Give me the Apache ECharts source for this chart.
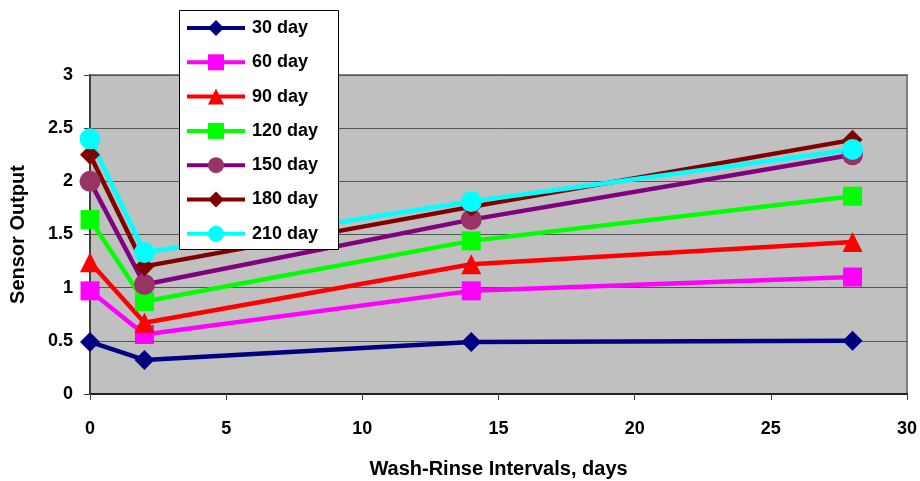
<!DOCTYPE html>
<html><head><meta charset="utf-8">
<script src="https://cdn.jsdelivr.net/npm/echarts@6/dist/echarts.min.js"></script>
<style>html,body{margin:0;padding:0;background:#fff}#c{width:920px;height:481px}</style>
</head><body><div id="c"></div>
<script>
const xValues = [0, 2, 14, 28];
const seriesNames = ['30 day','60 day','90 day','120 day','150 day','180 day','210 day'];
const d30  = [0.49, 0.32, 0.49, 0.50];
const d60  = [0.97, 0.56, 0.97, 1.10];
const d90  = [1.24, 0.67, 1.22, 1.43];
const d120 = [1.64, 0.87, 1.44, 1.86];
const d150 = [2.00, 1.03, 1.64, 2.25];
const d180 = [2.25, 1.20, 1.76, 2.39];
const d210 = [2.40, 1.33, 1.81, 2.30];
const allData = [d30, d60, d90, d120, d150, d180, d210];
const lineColors = ['#000080','#FF00FF','#FF0000','#00FF00','#800080','#800000','#00FFFF'];
const markColors = ['#000080','#FF00FF','#FF0000','#00FF00','#993366','#800000','#00FFFF'];
const symbols = ['diamond','rect','triangle','rect','circle','diamond','circle'];
const symSizes = [20,19,20,19,21,20,21];

const font = 'Arial, "Liberation Sans", sans-serif';
const chart = echarts.init(document.getElementById('c'), null, {renderer:'canvas'});
const series = seriesNames.map((n,i)=>({
  name:n, type:'line',
  data: xValues.map((x,j)=>[x, allData[i][j]]),
  symbol: symbols[i], symbolSize: symSizes[i],
  lineStyle:{color:lineColors[i], width:4.5},
  itemStyle:{color:markColors[i]},
  color: lineColors[i],
  animation:false, z: 2
}));
chart.setOption({
  animation:false,
  backgroundColor:'#fff',
  grid:{left:90, right:13, top:75, bottom:87, outerBoundsMode:'none', containLabel:false,
        show:true, backgroundColor:'#C0C0C0', borderColor:'#808080', borderWidth:2},
  graphic:[{type:'rect', z:5, shape:{x:179.5, y:10.5, width:159, height:239},
            style:{fill:'#fff', stroke:'#000', lineWidth:1}}],
  legend:{
    orient:'vertical', left:179, top:10, z:6,
    backgroundColor:'transparent', borderWidth:0,
    padding:[9,18,7,6], itemGap:16.3, itemWidth:58, itemHeight:20,
    textStyle:{fontFamily:font, fontWeight:'bold', fontSize:18, color:'#000', padding:[0,0,0,2]},
    data: seriesNames.map((n,i)=>({name:n, itemStyle:{color:markColors[i]}, lineStyle:{color:lineColors[i], width:4}}))
  },
  xAxis:{
    type:'value', min:0, max:30, interval:5,
    name:'Wash-Rinse Intervals, days', nameLocation:'middle', nameGap:65,
    nameTextStyle:{fontFamily:font, fontWeight:'bold', fontSize:20, color:'#000'},
    axisLine:{show:true, onZero:false, lineStyle:{color:'#202020', width:2}},
    axisTick:{show:true, inside:false, length:6, lineStyle:{color:'#404040', width:1}},
    axisLabel:{fontFamily:font, fontWeight:'bold', fontSize:18, color:'#000', margin:26},
    splitLine:{show:false}
  },
  yAxis:{
    type:'value', min:0, max:3, interval:0.5,
    name:'Sensor Output', nameLocation:'middle', nameGap:62, nameRotate:90,
    nameTextStyle:{fontFamily:font, fontWeight:'bold', fontSize:20, color:'#000'},
    axisLine:{show:true, lineStyle:{color:'#404040', width:2}},
    axisTick:{show:true, inside:false, length:6, lineStyle:{color:'#404040', width:1}},
    axisLabel:{fontFamily:font, fontWeight:'bold', fontSize:18, color:'#000', margin:17},
    splitLine:{show:true, lineStyle:{color:'#555555', width:1}}
  },
  series: series
});
</script></body></html>
